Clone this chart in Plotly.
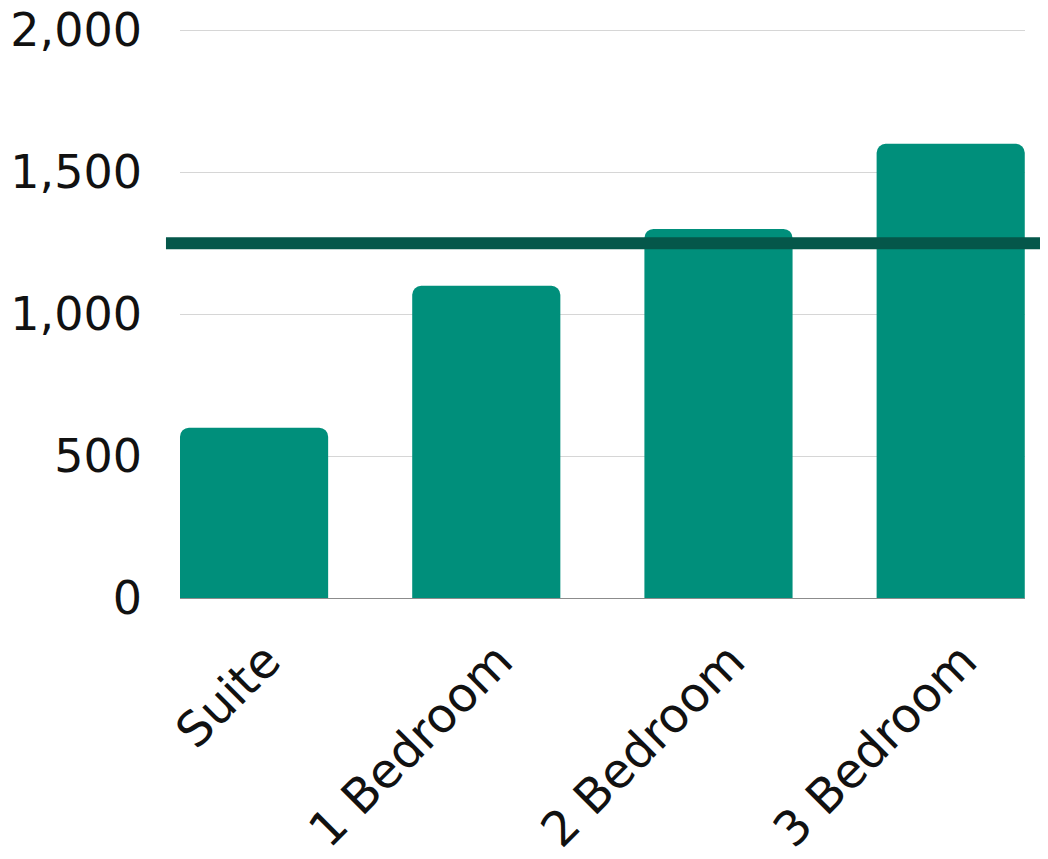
import plotly.graph_objects as go

categories = ["Suite", "1 Bedroom", "2 Bedroom", "3 Bedroom"]
values = [600, 1100, 1300, 1600]
reference_value = 1250
y_ticks = [0, 500, 1000, 1500, 2000]
y_tick_labels = ["0", "500", "1,000", "1,500", "2,000"]

bar_color = "#008f7b"
line_color = "#05574a"
font_family = "DejaVu Sans, sans-serif"

fig = go.Figure()
fig.add_trace(go.Bar(
    x=categories, y=values,
    marker=dict(color=bar_color, line=dict(width=0)),
    width=0.638,
))

fig.add_shape(type="line", xref="paper", yref="y",
              x0=-0.0166, x1=1.05, y0=reference_value, y1=reference_value,
              line=dict(color=line_color, width=12), layer="above")

fig.update_layout(
    width=1048, height=859,
    margin=dict(l=172, r=31, t=20, b=269),
    paper_bgcolor="white", plot_bgcolor="white",
    showlegend=False,
    barcornerradius=9,
    font=dict(family=font_family, color="#111111", size=46),
    xaxis=dict(
        range=[-0.319, 3.32],
        tickangle=-45,
        tickfont=dict(size=48),
        showgrid=False, showline=False, ticks="",
        ticklabelstandoff=24,
        ticklabelshift=12,
        ticklabeloverflow="allow",
        automargin=False,
    ),
    yaxis=dict(
        range=[0, 2008],
        tickvals=y_ticks, ticktext=y_tick_labels,
        tickfont=dict(size=46),
        showgrid=True, gridcolor="#d6d6d6", gridwidth=1,
        zeroline=True, zerolinecolor="#8c8c8c", zerolinewidth=1,
        showline=False, ticks="",
        ticklabelstandoff=37,
        ticklabeloverflow="allow",
        automargin=False,
    ),
)

fig.write_html("out.html")
